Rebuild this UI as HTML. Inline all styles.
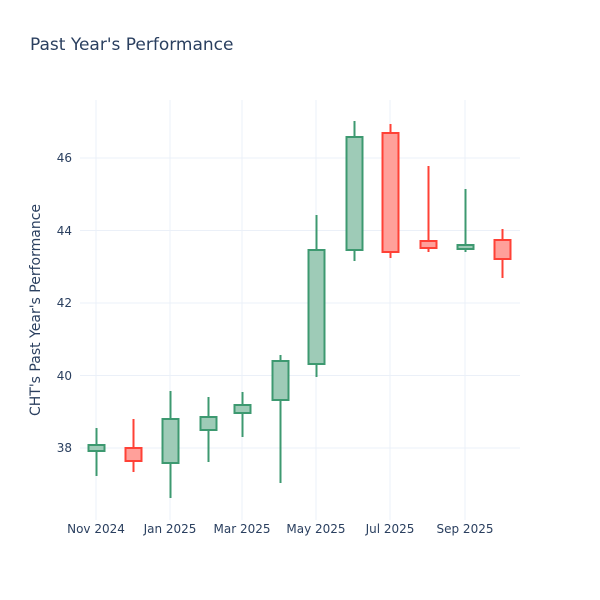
<!DOCTYPE html>
<html><head><style>body{margin:0;background:#fff}svg{display:block}</style></head><body>
<svg width="600" height="600" xmlns="http://www.w3.org/2000/svg" font-family="DejaVu Sans, sans-serif">
<rect width="600" height="600" fill="#fff"/>
<text x="30" y="50" font-size="17" fill="#2a3f5f">Past Year's Performance</text>
<g stroke="#ebf0f8" stroke-width="1">
<line x1="96" y1="100" x2="96" y2="520"/><line x1="170" y1="100" x2="170" y2="520"/><line x1="242" y1="100" x2="242" y2="520"/><line x1="316" y1="100" x2="316" y2="520"/><line x1="390" y1="100" x2="390" y2="520"/><line x1="465" y1="100" x2="465" y2="520"/>
<line x1="80" y1="448" x2="520" y2="448"/><line x1="80" y1="375.5" x2="520" y2="375.5"/><line x1="80" y1="303" x2="520" y2="303"/><line x1="80" y1="230.5" x2="520" y2="230.5"/><line x1="80" y1="158" x2="520" y2="158"/>
</g>
<g font-size="12" fill="#2a3f5f" text-anchor="end">
<text x="72" y="452">38</text><text x="72" y="380">40</text><text x="72" y="307">42</text><text x="72" y="235">44</text><text x="72" y="162">46</text>
</g>
<g font-size="12" fill="#2a3f5f" text-anchor="middle">
<text x="96" y="533">Nov 2024</text><text x="170" y="533">Jan 2025</text><text x="242" y="533">Mar 2025</text><text x="316" y="533">May 2025</text><text x="390" y="533">Jul 2025</text><text x="465" y="533">Sep 2025</text>
</g>
<text transform="translate(40,310) rotate(-90)" font-size="14" fill="#2a3f5f" text-anchor="middle">CHT's Past Year's Performance</text>
<g stroke-width="2">
<g stroke="#3d9970" fill="#9ecbb7">
<line x1="96.5" y1="428" x2="96.5" y2="476"/><rect x="88.5" y="445" width="16" height="6"/>
<line x1="170.5" y1="391" x2="170.5" y2="498"/><rect x="162.5" y="419" width="16" height="44"/>
<line x1="208.5" y1="397" x2="208.5" y2="462"/><rect x="200.5" y="417" width="16" height="13"/>
<line x1="242.5" y1="392" x2="242.5" y2="437"/><rect x="234.5" y="405" width="16" height="8"/>
<line x1="280.5" y1="355" x2="280.5" y2="483"/><rect x="272.5" y="361" width="16" height="39"/>
<line x1="316.5" y1="215" x2="316.5" y2="377"/><rect x="308.5" y="250" width="16" height="114"/>
<line x1="354.5" y1="121" x2="354.5" y2="261"/><rect x="346.5" y="137" width="16" height="113"/>
<line x1="465.5" y1="189" x2="465.5" y2="252"/><rect x="457.5" y="245" width="16" height="4"/>
</g>
<g stroke="#ff4136" fill="#ffa09a">
<line x1="133.5" y1="419" x2="133.5" y2="472"/><rect x="125.5" y="448" width="16" height="13"/>
<line x1="390.5" y1="124" x2="390.5" y2="258"/><rect x="382.5" y="133" width="16" height="119"/>
<line x1="428.5" y1="166" x2="428.5" y2="252"/><rect x="420.5" y="241" width="16" height="7"/>
<line x1="502.5" y1="229" x2="502.5" y2="278"/><rect x="494.5" y="240" width="16" height="19"/>
</g>
</g>
</svg>
</body></html>
